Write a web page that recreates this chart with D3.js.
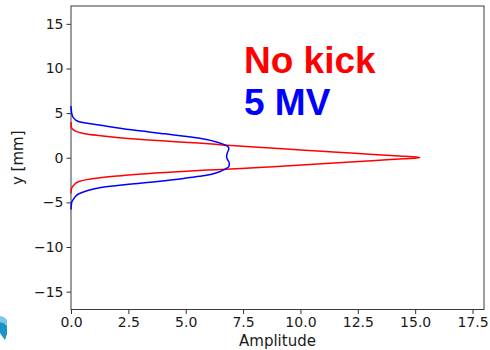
<!DOCTYPE html>
<html>
<head>
<meta charset="utf-8">
<script src="https://cdn.jsdelivr.net/npm/d3@7"></script>
<style>
  html, body { margin: 0; padding: 0; background: #fff; }
  svg { display: block; }
</style>
</head>
<body>
<svg id="chart" width="490" height="350"></svg>
<script>
// Vertical beam profiles: position y [mm] against amplitude
const yNoKick = [-4.0, -3.6, -3.3, -3.0, -2.68, -2.45, -2.27, -2.05, -1.9, -1.64, -1.45, -1.34, -1.2, -1.0, -0.75, -0.5, -0.3, -0.12, 0.0,
                 0.05, 0.2, 0.4, 0.6, 0.88, 1.1, 1.36, 1.5, 1.64, 1.87, 2.12, 2.3, 2.5, 2.7, 2.87, 3.1, 3.32, 3.6, 4.0];
const ampNoKick = [0, 0.01, 0.05, 0.15, 0.32, 0.7, 1.19, 2.0, 2.64, 4.1, 5.4, 6.3, 7.4, 8.8, 10.4, 12.0, 13.3, 14.5, 15.2,
                   15.1, 14.3, 13.0, 11.8, 10.0, 8.7, 7.0, 6.3, 5.55, 4.1, 2.64, 1.9, 1.19, 0.6, 0.32, 0.12, 0.03, 0.01, 0];

const y5MV = [-5.8, -5.0, -4.6, -4.06, -3.7, -3.39, -2.95, -2.57, -2.25, -2.0, -1.6, -1.27, -1.0, -0.6, -0.2, 0.1, 0.6, 1.0, 1.2, 1.38,
              1.71, 2.2, 2.68, 3.13, 3.58, 4.06, 4.5, 5.0, 5.8];
const amp5MV = [0, 0.03, 0.12, 0.32, 0.7, 1.19, 2.64, 4.1, 5.1, 5.84, 6.45, 6.72, 6.88, 6.9, 6.82, 6.78, 6.82, 6.88, 6.86, 6.75,
                6.42, 5.55, 4.1, 2.64, 1.45, 0.32, 0.1, 0.03, 0];

const xTicks = [0, 2.5, 5, 7.5, 10, 12.5, 15, 17.5];
const yTicks = [-15, -10, -5, 0, 5, 10, 15];

const labelNoKick = "No kick";
const label5MV = "5 MV";

const svg = d3.select("#chart");
const plotLeft = 71, plotRight = 484, plotTop = 6, plotBottom = 309.5;

const x = d3.scaleLinear().domain([0, 18]).range([plotLeft, plotRight]);
const y = d3.scaleLinear().domain([-17, 17]).range([plotBottom, plotTop]);

const tickFont = "DejaVu Sans, sans-serif";
const fmtX = d3.format(".1f");
const fmtY = v => (v < 0 ? "\u2212" + Math.abs(v) : String(v));

// x axis
const xAxis = svg.append("g")
  .attr("transform", `translate(0,${plotBottom})`)
  .call(d3.axisBottom(x).tickValues(xTicks).tickFormat(fmtX).tickSize(4.5).tickPadding(3));
// y axis
const yAxis = svg.append("g")
  .attr("transform", `translate(${plotLeft},0)`)
  .call(d3.axisLeft(y).tickValues(yTicks).tickFormat(fmtY).tickSize(4.5).tickPadding(3));

[xAxis, yAxis].forEach(g => {
  g.select(".domain").remove();
  g.selectAll(".tick line").attr("stroke", "#333").attr("stroke-width", 1);
  g.selectAll(".tick text")
    .attr("fill", "#1a1a1a")
    .style("font-family", tickFont)
    .style("font-size", "14px");
});

// frame
svg.append("rect")
  .attr("x", plotLeft).attr("y", plotTop)
  .attr("width", plotRight - plotLeft).attr("height", plotBottom - plotTop)
  .attr("fill", "none").attr("stroke", "#3a3a3a").attr("stroke-width", 1);

// profiles
const line = d3.line().curve(d3.curveMonotoneY);
const noKickPts = yNoKick.map((v, i) => [x(ampNoKick[i]), y(v)]);
const mvPts = y5MV.map((v, i) => [x(amp5MV[i]), y(v)]);

svg.append("path").attr("d", line(noKickPts))
  .attr("fill", "none").attr("stroke", "#ff0000").attr("stroke-width", 1.5);
svg.append("path").attr("d", line(mvPts))
  .attr("fill", "none").attr("stroke", "#0000ff").attr("stroke-width", 1.5);

// annotations
svg.append("text").attr("x", 244).attr("y", 73)
  .attr("fill", "#ff0000")
  .style("font-family", "Liberation Sans, Arial, sans-serif")
  .style("font-weight", "bold").style("font-size", "37px")
  .text(labelNoKick);
svg.append("text").attr("x", 244).attr("y", 115)
  .attr("fill", "#0000ff")
  .style("font-family", "Liberation Sans, Arial, sans-serif")
  .style("font-weight", "bold").style("font-size", "37px")
  .text(label5MV);

// axis labels
svg.append("text")
  .attr("x", (plotLeft + plotRight) / 2).attr("y", 346)
  .attr("text-anchor", "middle")
  .attr("fill", "#1a1a1a")
  .style("font-family", tickFont).style("font-size", "15px")
  .text("Amplitude");
svg.append("text")
  .attr("transform", `translate(23,${(plotTop + plotBottom) / 2}) rotate(-90)`)
  .attr("text-anchor", "middle")
  .attr("fill", "#1a1a1a")
  .style("font-family", tickFont).style("font-size", "15px")
  .text("y [mm]");

// corner emblem fragment
svg.append("path").attr("d", "M0,316 L4,317 L7,320 L7,326 L4,323 L0,322 Z").attr("fill", "#7cc8ea");
svg.append("path").attr("d", "M0,322 L4,323 L7,326 L7,334 L5,340 L2,336 L0,333 Z").attr("fill", "#1d93c9");
</script>
</body>
</html>
